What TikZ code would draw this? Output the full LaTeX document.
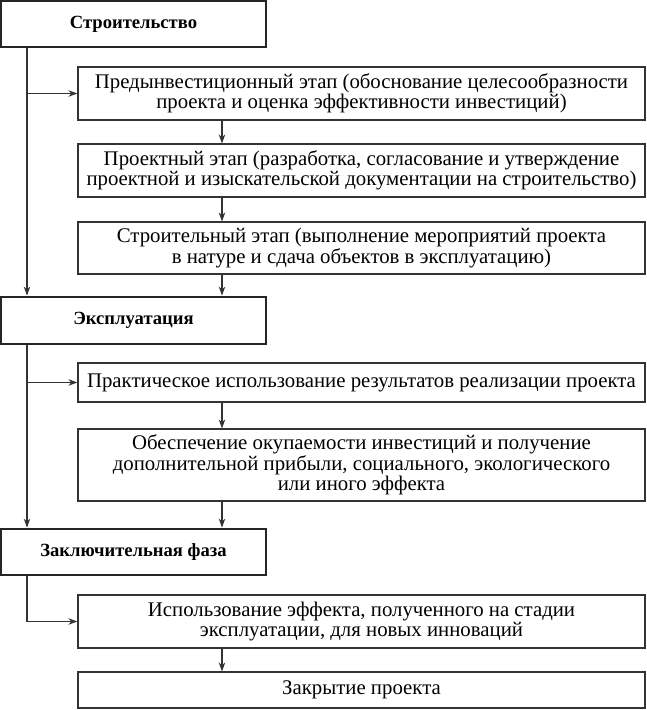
\documentclass[tikz,border=0pt]{standalone}
\usepackage{fontspec}
\setmainfont{Liberation Serif}
\usetikzlibrary{arrows.meta}
\tikzset{
  stagebox/.style={draw=black!80, line width=1.2pt, fill=white, align=center,
    inner sep=0pt, font=\fontsize{20.8}{20.5}\selectfont},
  phasebox/.style={draw=black!85, line width=2.8pt, fill=white, align=center,
    inner sep=0pt, font=\fontsize{18.6}{20}\selectfont\bfseries},
  arr/.style={draw=black!80, line width=1.1pt, -{Stealth[length=9pt,width=6.5pt]}},
}
\begin{document}
\begin{tikzpicture}[x=1pt,y=-1pt]
\useasboundingbox (0,0) rectangle (647,710);
\node[phasebox, minimum width=265pt, minimum height=46pt] (h1) at (133.5,24) {Строительство};
\node[stagebox, minimum width=567pt, minimum height=53pt] (b1) at (361.5,93.5)
  {Предынвестиционный этап (обоснование целесообразности\\проекта и оценка эффективности инвестиций)};
\node[stagebox, minimum width=567pt, minimum height=53pt] (b2) at (361.5,170.5)
  {Проектный этап (разработка, согласование и утверждение\\проектной и изыскательской документации на строительство)};
\node[stagebox, minimum width=567pt, minimum height=52pt] (b3) at (361.5,248)
  {Строительный этап (выполнение мероприятий проекта\\в натуре и сдача объектов в эксплуатацию)};
\node[phasebox, minimum width=265pt, minimum height=47pt] (h2) at (133.5,320.5) {Эксплуатация};
\node[stagebox, minimum width=567pt, minimum height=39pt] (b4) at (361.5,382.5)
  {Практическое использование результатов реализации проекта};
\node[stagebox, minimum width=567pt, minimum height=72pt] (b5) at (361.5,465)
  {Обеспечение окупаемости инвестиций и получение\\дополнительной прибыли, социального, экологического\\или иного эффекта};
\node[phasebox, minimum width=265pt, minimum height=46pt] (h3) at (133.5,552) {Заключительная фаза};
\node[stagebox, minimum width=567pt, minimum height=53pt] (b6) at (361.5,621.5)
  {Использование эффекта, полученного на стадии\\эксплуатации, для новых инноваций};
\node[stagebox, minimum width=567pt, minimum height=36pt] (b7) at (361.5,690)
  {Закрытие проекта};
\coordinate (L) at (27,0);
\coordinate (M) at (222,0);
% left spine
\draw[arr] (h1.south -| L) -- (h2.north -| L);
\draw[arr] (L |- b1.west) -- (b1.west);
\draw[arr] (h2.south -| L) -- (h3.north -| L);
\draw[arr] (L |- b4.west) -- (b4.west);
\draw[arr] (h3.south -| L) |- (b6.west);
% middle arrows
\draw[arr] (b1.south -| M) -- (b2.north -| M);
\draw[arr] (b2.south -| M) -- (b3.north -| M);
\draw[arr] (b3.south -| M) -- (h2.north -| M);
\draw[arr] (b4.south -| M) -- (b5.north -| M);
\draw[arr] (b5.south -| M) -- (h3.north -| M);
\draw[arr] (b6.south -| M) -- (b7.north -| M);
\end{tikzpicture}
\end{document}
